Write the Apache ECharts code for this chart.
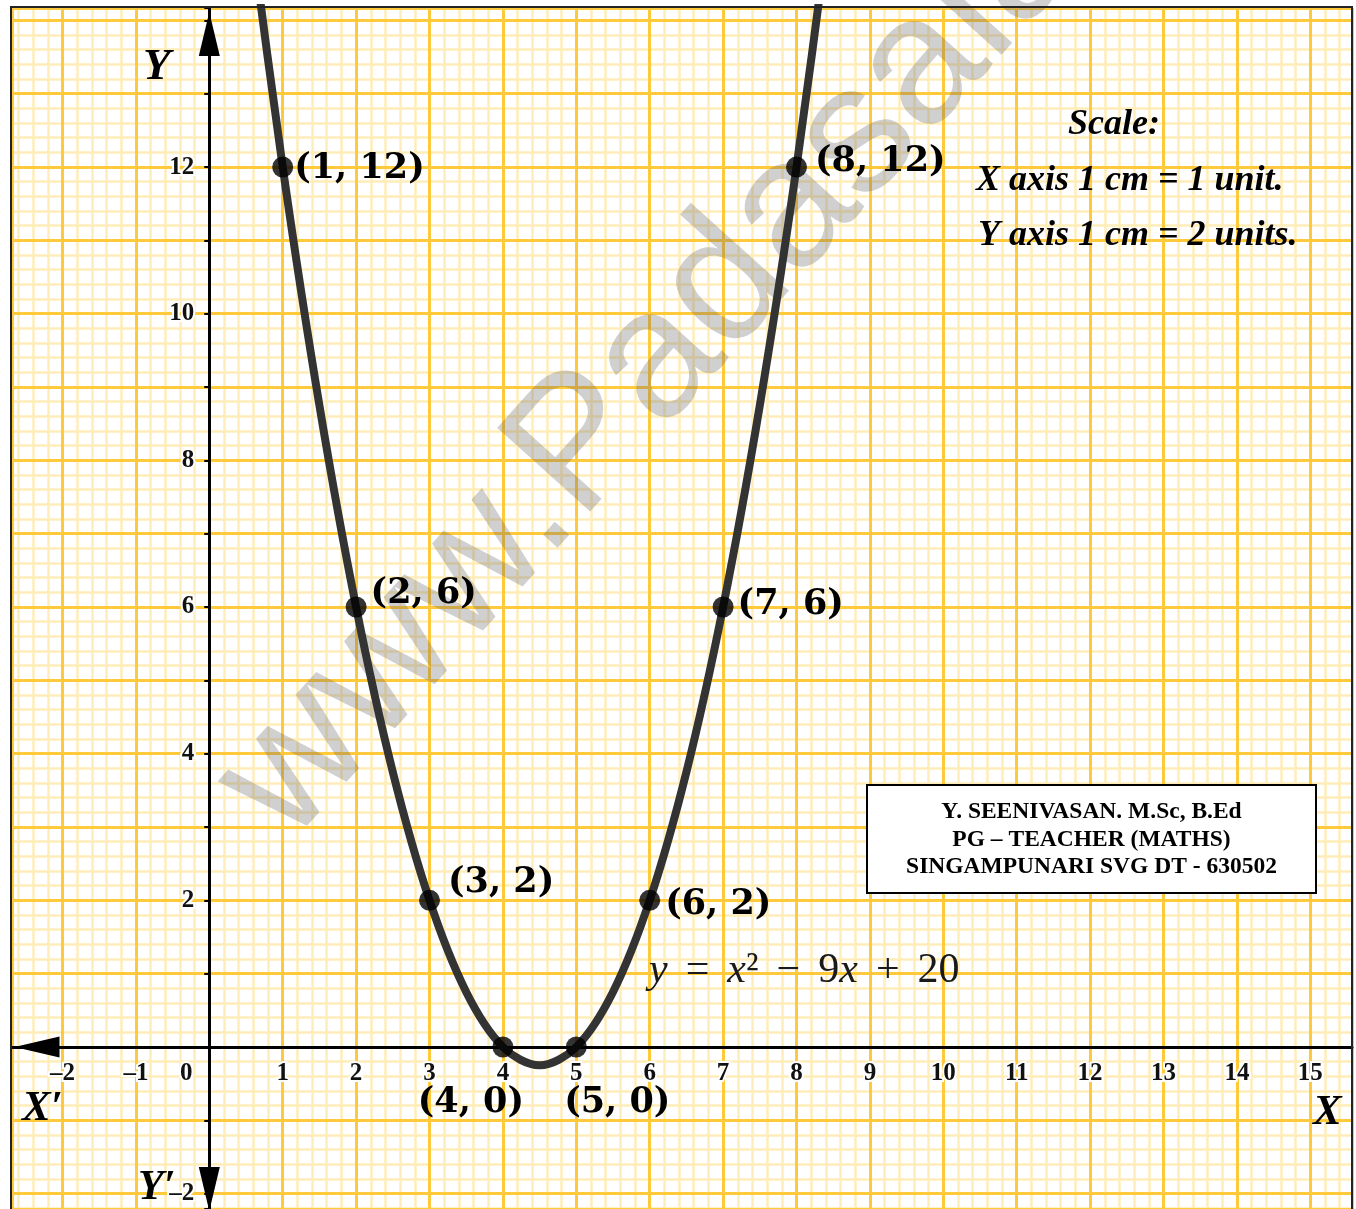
<!DOCTYPE html>
<html>
<head>
<meta charset="utf-8">
<title>y = x² − 9x + 20</title>
<script src="https://cdn.jsdelivr.net/npm/echarts@6/dist/echarts.min.js"></script>
<style>
  html, body { margin: 0; padding: 0; background: #fff; }
  #chart { width: 1356px; height: 1209px; }
</style>
</head>
<body>
<div id="chart"></div>
<script>
// Table of values for y = x^2 - 9x + 20
const tableX = [1, 2, 3, 4, 5, 6, 7, 8];
const tableY = [12, 6, 2, 0, 0, 2, 6, 12];

// Points along the plotted parabola (joined with a smooth line)
const curveX = [0.5, 1, 1.5, 2, 2.5, 3, 3.5, 4, 4.5, 5, 5.5, 6, 6.5, 7, 7.5, 8, 8.5];
const curveY = [15.75, 12, 8.75, 6, 3.75, 2, 0.75, 0, -0.25, 0, 0.75, 2, 3.75, 6, 8.75, 12, 15.75];

// Axis tick labels
const xTickValues = [-2, -1, 0, 1, 2, 3, 4, 5, 6, 7, 8, 9, 10, 11, 12, 13, 14, 15];
const xTickLabels = ['–2', '–1', '0', '1', '2', '3', '4', '5', '6', '7', '8', '9', '10', '11', '12', '13', '14', '15'];
const yTickValues = [-2, 2, 4, 6, 8, 10, 12];
const yTickLabels = ['–2', '2', '4', '6', '8', '10', '12'];

// Visible window of the graph sheet (axis units)
const X_MIN = -2.688, X_MAX = 15.568;
const Y_MIN = -2.209, Y_MAX = 14.169;

// Plot rectangle in pixels
const GRID = { left: 12, top: 8, width: 1340, height: 1201 };

// Where each point's "(x, y)" label sits relative to its dot
const pointLabelPlacement = [
  { position: 'right', distance: 1, offset: [0, 2] },
  { position: 'right', distance: 4, offset: [0, -13] },
  { position: 'right', distance: 8, offset: [0, -17] },
  { position: 'inside', offset: [-32, 56] },
  { position: 'inside', offset: [41, 56] },
  { position: 'right', distance: 5, offset: [0, 5] },
  { position: 'right', distance: 4, offset: [0, -2] },
  { position: 'right', distance: 8, offset: [0, -5] }
];

const MAJOR = '#FFC93C';
const MINOR = '#FFEDB9';
const SERIF = 'Liberation Serif';

// The axes cross at the origin: shift them in from the plot edges
const xAxisOffset = -GRID.height * (0 - Y_MIN) / (Y_MAX - Y_MIN);
const yAxisOffset = -GRID.width * (0 - X_MIN) / (X_MAX - X_MIN);

const tickFont = {
  fontFamily: SERIF, fontWeight: 'bold', fontSize: 25, color: '#111',
  textBorderColor: '#fff', textBorderWidth: 4
};

const pointLabelFont = {
  fontFamily: 'DejaVu Serif', fontWeight: 'bold', fontSize: 35,
  color: '#000', textBorderWidth: 0, opacity: 1
};

function lookup(values, labels, v) {
  const r = Math.round(v);
  if (Math.abs(v - r) > 1e-6) return null;
  const i = values.indexOf(r);
  return i < 0 ? null : labels[i];
}

// Axis used only to draw graph-paper rulings
function ruling(min, max, step, color, width, z) {
  return {
    type: 'value', min: min, max: max, minInterval: step, maxInterval: step, z: z,
    axisLine: { show: false }, axisTick: { show: false }, axisLabel: { show: false },
    splitLine: { show: true, lineStyle: { color: color, width: width } }
  };
}

const chart = echarts.init(document.getElementById('chart'), null, { renderer: 'canvas' });

const option = {
  animation: false,
  backgroundColor: '#fff',
  grid: {
    left: GRID.left, top: GRID.top, width: GRID.width, height: GRID.height,
    show: true, backgroundColor: '#fff', borderWidth: 0,
    containLabel: false, outerBoundsMode: 'none'
  },
  xAxis: [
    {
      type: 'value', min: X_MIN, max: X_MAX, minInterval: 1, maxInterval: 1, z: 10,
      position: 'bottom', offset: xAxisOffset,
      axisLine: {
        show: true, onZero: false,
        lineStyle: { color: '#000', width: 3 },
        symbol: ['triangle', 'none'], symbolSize: [21, 45], symbolOffset: [25, 0]
      },
      axisTick: { show: false },
      splitLine: { show: false },
      axisLabel: Object.assign({}, tickFont, {
        margin: 14,
        formatter: function (v) {
          const t = lookup(xTickValues, xTickLabels, v);
          if (t === null) return '';
          return Math.round(v) === 0 ? '{zero|' + t + '}' : t;
        },
        rich: {
          zero: {
            fontFamily: SERIF, fontWeight: 'bold', fontSize: 25, color: '#111',
            textBorderColor: '#fff', textBorderWidth: 4, padding: [0, 46, 0, 0]
          }
        }
      })
    },
    ruling(X_MIN, X_MAX, 1, MAJOR, 3, 2),
    ruling(X_MIN, X_MAX, 0.2, MINOR, 2.5, 1)
  ],
  yAxis: [
    {
      type: 'value', min: Y_MIN, max: Y_MAX, minInterval: 1, maxInterval: 1, z: 10,
      position: 'left', offset: yAxisOffset,
      axisLine: {
        show: true, onZero: false,
        lineStyle: { color: '#000', width: 3 },
        symbol: ['triangle', 'triangle'], symbolSize: [21, 44], symbolOffset: [20, -26]
      },
      axisTick: { show: true, length: 5, inside: false, lineStyle: { color: '#000', width: 2 } },
      splitLine: { show: false },
      axisLabel: Object.assign({}, tickFont, {
        margin: 15,
        formatter: function (v) {
          const t = lookup(yTickValues, yTickLabels, v);
          return t === null ? '' : t;
        }
      })
    },
    ruling(Y_MIN, Y_MAX, 1, MAJOR, 3, 2),
    ruling(Y_MIN, Y_MAX, 0.2, MINOR, 2.5, 1)
  ],
  series: [
    {
      name: 'y = x² − 9x + 20',
      type: 'line',
      xAxisIndex: 0, yAxisIndex: 0,
      data: curveX.map(function (x, i) { return [x, curveY[i]]; }),
      smooth: 0.33,
      showSymbol: false,
      clip: true,
      z: 11,
      lineStyle: { color: '#333', width: 8, cap: 'round' }
    },
    {
      name: 'table',
      type: 'scatter',
      xAxisIndex: 0, yAxisIndex: 0,
      symbol: 'circle',
      symbolSize: 21,
      z: 12,
      itemStyle: { color: '#000' },
      label: Object.assign({
        show: true,
        formatter: function (p) { return '(' + p.value[0] + ', ' + p.value[1] + ')'; }
      }, pointLabelFont),
      data: tableX.map(function (x, i) {
        return { value: [x, tableY[i]], label: Object.assign({}, pointLabelFont, pointLabelPlacement[i]) };
      })
    }
  ],
  graphic: [
    {
      type: 'text', z: 3, silent: true,
      x: 252, y: 812, rotation: 48 * Math.PI / 180,
      style: {
        text: 'www.Padasalai.Net', font: '182px "Liberation Sans"',
        fill: 'rgba(100,100,100,0.3)', align: 'left', verticalAlign: 'middle'
      }
    },
    {
      type: 'text', z: 20, x: 649, y: 971,
      style: {
        text: '{v|y}{op|=}{v|x}²{op|−}9{v|x}{op|+}20',
        fontSize: 42, fontFamily: SERIF, fill: '#1a1a1a',
        align: 'left', verticalAlign: 'middle',
        rich: {
          v: { fontStyle: 'italic', fontSize: 42, fontFamily: SERIF, fill: '#1a1a1a' },
          op: { fontSize: 42, fontFamily: SERIF, fill: '#1a1a1a', padding: [0, 18, 0, 18] }
        }
      }
    },
    {
      type: 'text', z: 20, x: 1114, y: 125,
      style: { text: 'Scale:', font: 'italic bold 36px "Liberation Serif"', fill: '#000', align: 'center', verticalAlign: 'middle' }
    },
    {
      type: 'text', z: 20, x: 976, y: 181,
      style: { text: 'X axis 1 cm = 1 unit.', font: 'italic bold 36px "Liberation Serif"', fill: '#000', align: 'left', verticalAlign: 'middle' }
    },
    {
      type: 'text', z: 20, x: 978, y: 236,
      style: { text: 'Y axis 1 cm = 2 units.', font: 'italic bold 36px "Liberation Serif"', fill: '#000', align: 'left', verticalAlign: 'middle' }
    },
    {
      type: 'rect', z: 20,
      shape: { x: 867, y: 785, width: 449, height: 108 },
      style: { fill: '#fff', stroke: '#000', lineWidth: 2 }
    },
    {
      type: 'text', z: 21, x: 1091.5, y: 812,
      style: { text: 'Y. SEENIVASAN. M.Sc, B.Ed', font: 'bold 23.5px "Liberation Serif"', fill: '#000', align: 'center', verticalAlign: 'middle' }
    },
    {
      type: 'text', z: 21, x: 1091.5, y: 839.5,
      style: { text: 'PG – TEACHER (MATHS)', font: 'bold 23.5px "Liberation Serif"', fill: '#000', align: 'center', verticalAlign: 'middle' }
    },
    {
      type: 'text', z: 21, x: 1091.5, y: 867,
      style: { text: 'SINGAMPUNARI SVG DT - 630502', font: 'bold 23.5px "Liberation Serif"', fill: '#000', align: 'center', verticalAlign: 'middle' }
    },
    {
      type: 'text', z: 20, x: 143, y: 67,
      style: { text: 'Y', font: 'italic bold 45px "Liberation Serif"', fill: '#000', align: 'left', verticalAlign: 'middle' }
    },
    {
      type: 'text', z: 20, x: 22, y: 1109,
      style: { text: 'X′', font: 'italic bold 43px "Liberation Serif"', fill: '#000', align: 'left', verticalAlign: 'middle' }
    },
    {
      type: 'text', z: 20, x: 1313, y: 1113,
      style: { text: 'X', font: 'italic bold 43px "Liberation Serif"', fill: '#000', align: 'left', verticalAlign: 'middle' }
    },
    {
      type: 'text', z: 20, x: 138, y: 1188,
      style: { text: 'Y′', font: 'italic bold 42px "Liberation Serif"', fill: '#000', align: 'left', verticalAlign: 'middle' }
    },
    {
      type: 'polyline', z: 30, silent: true,
      shape: { points: [[11, 1215], [11, 7], [1352, 7], [1352, 1215]] },
      style: { stroke: '#222', lineWidth: 2, fill: null }
    }
  ]
};

chart.setOption(option);
</script>
</body>
</html>
